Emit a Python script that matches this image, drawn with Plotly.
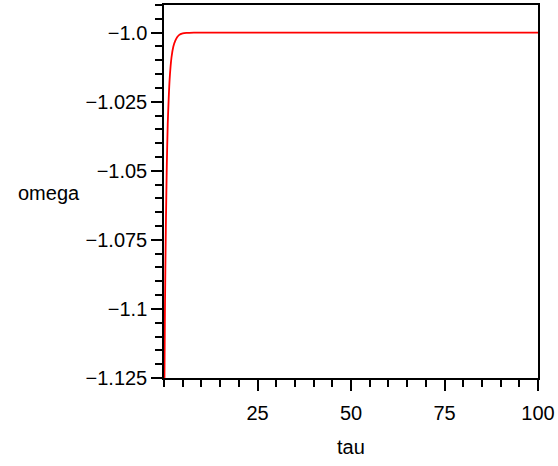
import plotly.graph_objects as go

tau = [0, 0.25, 0.5, 0.75, 1.0, 1.25, 1.5, 2.0, 2.5, 3.0, 3.5, 4.0, 5.0, 6.0, 8.0, 10, 20, 40, 60, 80, 100]
omega = [-1.15, -1.10, -1.07, -1.048, -1.033, -1.024, -1.017, -1.009, -1.005, -1.003,
         -1.0017, -1.0009, -1.0003, -1.0001, -1.0, -1.0, -1.0, -1.0, -1.0, -1.0, -1.0]

x_ticks = [25, 50, 75, 100]
x_ticktext = ["25", "50", "75", "100"]
y_ticks = [-1.125, -1.1, -1.075, -1.05, -1.025, -1.0]
y_ticktext = ["\u22121.125", "\u22121.1", "\u22121.075", "\u22121.05", "\u22121.025", "\u22121.0"]

fig = go.Figure()
fig.add_trace(go.Scatter(x=tau, y=omega, mode="lines",
                         line=dict(color="#ff0000", width=1.8, shape="spline", smoothing=0.6),
                         showlegend=False, hoverinfo="skip"))

font = dict(family="Liberation Sans, Arial, sans-serif", size=20, color="black")

fig.update_layout(
    width=558, height=466,
    margin=dict(l=164, r=20, t=5, b=88),
    paper_bgcolor="white", plot_bgcolor="white",
    font=font,
    xaxis=dict(range=[0, 100], tickmode="array", tickvals=x_ticks, ticktext=x_ticktext,
               ticks="outside", ticklen=11, tickwidth=1.5, tickcolor="black",
               showline=True, linecolor="black", linewidth=1.5, mirror=True,
               showgrid=False, zeroline=False, ticklabelstandoff=5, automargin=False,
               minor=dict(tickmode="linear", tick0=0, dtick=5, ticks="outside", ticklen=7,
                          tickwidth=1.5, tickcolor="black", showgrid=False)),
    yaxis=dict(range=[-1.125, -0.99], tickmode="array", tickvals=y_ticks, ticktext=y_ticktext,
               ticks="outside", ticklen=11, tickwidth=1.5, tickcolor="black",
               showline=True, linecolor="black", linewidth=1.5, mirror=True,
               showgrid=False, zeroline=False, automargin=False,
               minor=dict(tickmode="linear", tick0=-1.125, dtick=0.005, ticks="outside", ticklen=7,
                          tickwidth=1.5, tickcolor="black", showgrid=False)),
    annotations=[
        dict(text="omega", xref="paper", yref="paper", x=-0.307, y=0.496,
             xanchor="center", yanchor="middle", showarrow=False, font=font),
        dict(text="tau", xref="paper", yref="paper", x=0.5, y=-0.185,
             xanchor="center", yanchor="middle", showarrow=False, font=font),
    ],
)

fig.write_html("out.html", config={"displayModeBar": False},
               post_script="document.body.style.margin='0px';")
